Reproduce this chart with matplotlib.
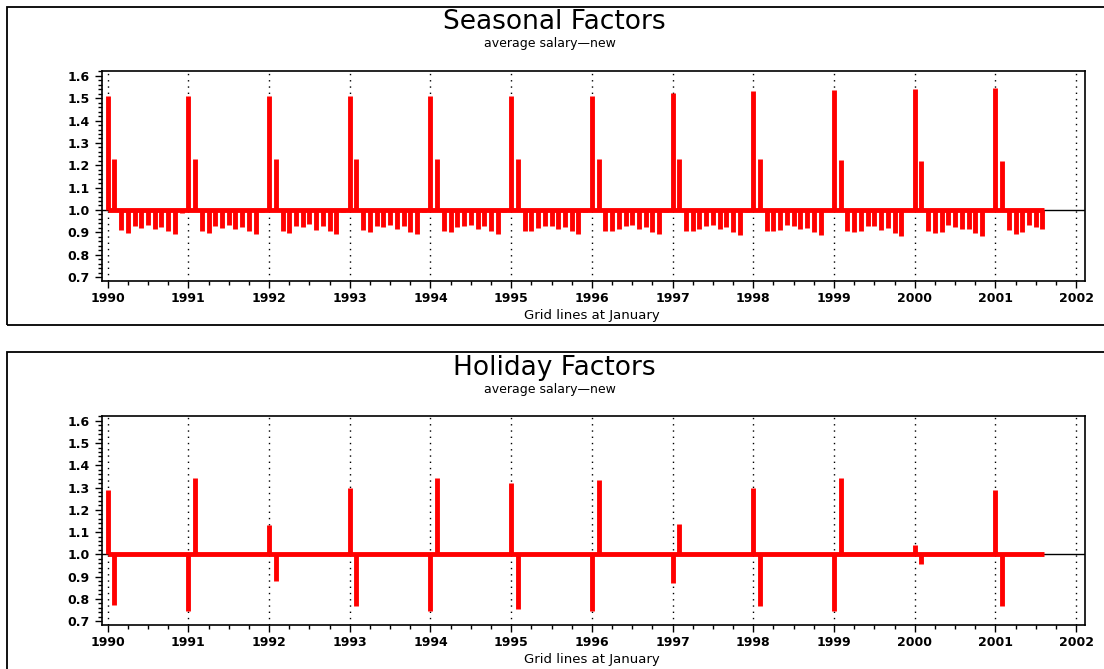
import numpy as np
import matplotlib
matplotlib.use("Agg")
import matplotlib.pyplot as plt
from matplotlib.patches import Rectangle
from matplotlib.ticker import MultipleLocator

# monthly factors, Jan 1990 .. Aug 2001
seasonal = [
    1.511, 1.227, 0.910, 0.898, 0.930, 0.921, 0.934, 0.913, 0.925, 0.904, 0.894, 0.988,  # 1990
    1.509, 1.226, 0.908, 0.899, 0.929, 0.920, 0.934, 0.914, 0.925, 0.905, 0.893, 0.990,  # 1991
    1.510, 1.227, 0.908, 0.898, 0.928, 0.922, 0.935, 0.912, 0.926, 0.905, 0.892, 0.990,  # 1992
    1.509, 1.229, 0.909, 0.900, 0.926, 0.925, 0.933, 0.914, 0.927, 0.903, 0.894, 0.992,  # 1993
    1.508, 1.228, 0.908, 0.902, 0.922, 0.927, 0.932, 0.915, 0.926, 0.905, 0.894, 0.993,  # 1994
    1.509, 1.229, 0.907, 0.906, 0.920, 0.928, 0.930, 0.916, 0.925, 0.904, 0.893, 0.992,  # 1995
    1.511, 1.230, 0.906, 0.906, 0.916, 0.929, 0.932, 0.914, 0.923, 0.902, 0.892, 0.993,  # 1996
    1.522, 1.230, 0.906, 0.905, 0.914, 0.930, 0.931, 0.914, 0.922, 0.901, 0.890, 0.993,  # 1997
    1.532, 1.228, 0.906, 0.904, 0.911, 0.931, 0.929, 0.913, 0.921, 0.900, 0.887, 0.996,  # 1998
    1.538, 1.223, 0.906, 0.900, 0.906, 0.929, 0.928, 0.912, 0.920, 0.898, 0.884, 1.003,  # 1999
    1.543, 1.221, 0.904, 0.896, 0.903, 0.932, 0.923, 0.913, 0.914, 0.896, 0.884, 1.006,  # 2000
    1.547, 1.219, 0.910, 0.894, 0.903, 0.932, 0.923, 0.915,                              # 2001
]

holiday = [
    1.290, 0.770, 1.0, 1.0, 1.0, 1.0, 1.0, 1.0, 1.0, 1.0, 1.0, 1.0,  # 1990
    0.745, 1.345, 1.0, 1.0, 1.0, 1.0, 1.0, 1.0, 1.0, 1.0, 1.0, 1.0,  # 1991
    1.130, 0.880, 1.0, 1.0, 1.0, 1.0, 1.0, 1.0, 1.0, 1.0, 1.0, 1.0,  # 1992
    1.300, 0.768, 1.0, 1.0, 1.0, 1.0, 1.0, 1.0, 1.0, 1.0, 1.0, 1.0,  # 1993
    0.743, 1.345, 1.0, 1.0, 1.0, 1.0, 1.0, 1.0, 1.0, 1.0, 1.0, 1.0,  # 1994
    1.321, 0.752, 1.0, 1.0, 1.0, 1.0, 1.0, 1.0, 1.0, 1.0, 1.0, 1.0,  # 1995
    0.743, 1.333, 1.006, 1.0, 1.0, 1.0, 1.0, 1.0, 1.0, 1.0, 1.0, 1.0,  # 1996
    0.872, 1.138, 1.0, 1.0, 1.0, 1.0, 1.0, 1.0, 1.0, 1.0, 1.0, 1.0,  # 1997
    1.300, 0.766, 1.0, 1.0, 1.0, 1.0, 1.0, 1.0, 1.0, 1.0, 1.0, 1.0,  # 1998
    0.743, 1.345, 1.0, 1.0, 1.0, 1.0, 1.0, 1.0, 1.0, 1.0, 1.0, 1.0,  # 1999
    1.043, 0.955, 1.0, 1.0, 1.0, 1.0, 1.0, 1.0, 1.0, 1.0, 1.0, 1.0,  # 2000
    1.290, 0.768, 1.0, 1.0, 1.0, 1.0, 1.0, 1.0,                      # 2001
]

years = list(range(1990, 2003))
yticks = [0.7, 0.8, 0.9, 1.0, 1.1, 1.2, 1.3, 1.4, 1.5, 1.6]
titles = ["Seasonal Factors", "Holiday Factors"]
subtitle = "average salary\u2014new"
xlabel = "Grid lines at January"

months = 1990 + np.arange(len(seasonal)) / 12.0

W, H = 1104, 669
fig = plt.figure(figsize=(W / 100, H / 100), dpi=100)

# (panel top, panel bottom, axes top, axes bottom, title y, subtitle y, xlabel y) in px
panels = [
    (7, 325, 71, 281, 22, 44, 316),
    (352, 680, 416, 625, 368, 389, 660),
]

for k, (series, title) in enumerate(zip([seasonal, holiday], titles)):
    ptop, pbot, atop, abot, ty, sy, xy = panels[k]
    fig.patches.append(Rectangle((7 / W, 1 - pbot / H), 1.2, (pbot - ptop) / H,
                                 transform=fig.transFigure, fill=False,
                                 edgecolor="black", linewidth=1.3))
    ax = fig.add_axes([102 / W, 1 - abot / H, (1085 - 102) / W, (abot - atop) / H])
    ax.set_xlim(1989.93, 2002.11)
    ax.set_ylim(0.682, 1.622)

    for yr in years:
        ax.axvline(yr, color="black", linestyle=(0, (1, 3.5)), linewidth=1.0, zorder=1)
    ax.axhline(1.0, color="black", linewidth=1.0, zorder=1)

    vals = np.array(series)
    ax.vlines(months, 1.0, vals, color="#ff0000", linewidth=3.5, zorder=3)
    ax.hlines(1.0, months[0], months[-1] + 0.02, color="#ff0000", linewidth=3.5, zorder=3)

    ax.set_xticks(years)
    ax.set_xticklabels([str(y) for y in years])
    ax.xaxis.set_minor_locator(MultipleLocator(0.25))
    ax.set_yticks(yticks)
    ax.set_yticklabels(["%.1f" % v for v in yticks])
    ax.yaxis.set_minor_locator(MultipleLocator(0.02))
    ax.tick_params(axis="both", which="major", direction="out", length=5, width=1,
                   labelsize=9, pad=3)
    ax.tick_params(axis="y", which="major", pad=4)
    ax.tick_params(axis="both", which="minor", direction="out", length=3, width=1)
    for lab in ax.get_xticklabels() + ax.get_yticklabels():
        lab.set_fontweight("bold")
    for sp in ax.spines.values():
        sp.set_linewidth(1.2)

    fig.text(554 / W, 1 - ty / H, title, ha="center", va="center", fontsize=19)
    fig.text(550 / W, 1 - sy / H, subtitle, ha="center", va="center", fontsize=9)
    fig.text(592 / W, 1 - xy / H, xlabel, ha="center", va="center", fontsize=9.5)

fig.savefig("out.png", dpi=100)
